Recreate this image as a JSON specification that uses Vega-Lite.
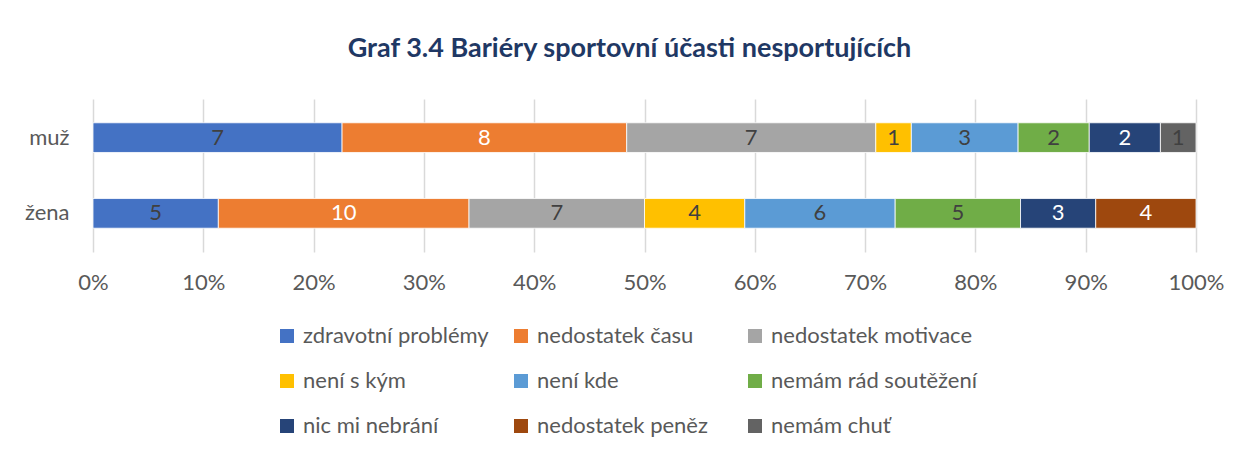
{
  "$schema": "https://vega.github.io/schema/vega-lite/v6.json",
  "width": 1103,
  "height": 153,
  "autosize": {"type": "none"},
  "padding": {"left": 93, "top": 99, "right": 44, "bottom": 201},
  "background": "white",
  "title": {
    "text": "Graf 3.4 Bariéry sportovní účasti nesportujících",
    "font": "Lato",
    "fontSize": 27,
    "fontWeight": "bold",
    "color": "#1F3864",
    "anchor": "middle",
    "offset": 36,
    "dx": -15
  },
  "data": {
    "values": [
      {"g": "muž", "k": "zdravotní problémy", "v": 7},
      {"g": "muž", "k": "nedostatek času", "v": 8},
      {"g": "muž", "k": "nedostatek motivace", "v": 7},
      {"g": "muž", "k": "není s kým", "v": 1},
      {"g": "muž", "k": "není kde", "v": 3},
      {"g": "muž", "k": "nemám rád soutěžení", "v": 2},
      {"g": "muž", "k": "nic mi nebrání", "v": 2},
      {"g": "muž", "k": "nemám chuť", "v": 1},
      {"g": "žena", "k": "zdravotní problémy", "v": 5},
      {"g": "žena", "k": "nedostatek času", "v": 10},
      {"g": "žena", "k": "nedostatek motivace", "v": 7},
      {"g": "žena", "k": "není s kým", "v": 4},
      {"g": "žena", "k": "není kde", "v": 6},
      {"g": "žena", "k": "nemám rád soutěžení", "v": 5},
      {"g": "žena", "k": "nic mi nebrání", "v": 3},
      {"g": "žena", "k": "nedostatek peněz", "v": 4}
    ]
  },
  "transform": [
    {"stack": "v", "groupby": ["g"], "offset": "normalize", "as": ["v0", "v1"]},
    {"calculate": "(datum.v0 + datum.v1) / 2", "as": "vm"}
  ],
  "config": {
    "view": {"stroke": null},
    "font": "Lato",
    "axis": {"labelFont": "Lato", "labelColor": "#595959", "labelFontSize": 22},
    "axisX": {
      "title": null,
      "format": ".0%",
      "values": [0, 0.1, 0.2, 0.3, 0.4, 0.5, 0.6, 0.7, 0.8, 0.9, 1],
      "domain": false,
      "ticks": false,
      "grid": true,
      "gridColor": "#D9D9D9",
      "gridWidth": 1.5,
      "labelPadding": 20,
      "labelOverlap": false,
      "labelFlush": false,
      "labelBound": false
    },
    "legend": {"labelFont": "Lato"}
  },
  "encoding": {
    "y": {
      "field": "g",
      "type": "nominal",
      "sort": ["muž", "žena"],
      "scale": {"paddingInner": 0.608, "paddingOuter": 0.314},
      "axis": {"title": null, "domain": false, "ticks": false, "labelPadding": 24}
    }
  },
  "layer": [
    {
      "mark": {"type": "bar", "stroke": "white", "strokeWidth": 0.8},
      "encoding": {
        "x": {
          "field": "v0",
          "type": "quantitative",
          "scale": {"domain": [0, 1], "nice": false},
          "axis": {"title": null, "format": ".0%", "labelFlush": false, "values": [0, 0.1, 0.2, 0.3, 0.4, 0.5, 0.6, 0.7, 0.8, 0.9, 1]}
        },
        "x2": {"field": "v1"},
        "color": {
          "field": "k",
          "type": "nominal",
          "scale": {
            "domain": ["zdravotní problémy", "nedostatek času", "nedostatek motivace", "není s kým", "není kde", "nemám rád soutěžení", "nic mi nebrání", "nedostatek peněz", "nemám chuť"],
            "range": ["#4472C4", "#ED7D31", "#A5A5A5", "#FFC000", "#5B9BD5", "#70AD47", "#264478", "#9E480E", "#636363"]
          },
          "legend": {
            "title": null,
            "orient": "none",
            "direction": "horizontal",
            "legendX": 183,
            "legendY": 226,
            "columns": 3,
            "gridAlign": "all",
            "columnPadding": 1,
            "rowPadding": 23,
            "symbolType": "square",
            "symbolSize": 196,
            "symbolStrokeWidth": 0,
            "labelFontSize": 22,
            "labelLimit": 400,
            "labelColor": "#595959",
            "labelOffset": 5,
            "padding": 0
          }
        }
      }
    },
    {
      "mark": {"type": "text", "fontSize": 22, "align": "center", "baseline": "middle"},
      "encoding": {
        "x": {
          "field": "vm",
          "type": "quantitative",
          "axis": {"title": null, "format": ".0%", "labelFlush": false, "values": [0, 0.1, 0.2, 0.3, 0.4, 0.5, 0.6, 0.7, 0.8, 0.9, 1]}
        },
        "text": {"field": "v", "type": "quantitative"},
        "color": {
          "condition": {"test": "datum.k === 'nedostatek času' || datum.k === 'nic mi nebrání' || datum.k === 'nedostatek peněz'", "value": "white"},
          "value": "#404040"
        }
      }
    }
  ]
}
